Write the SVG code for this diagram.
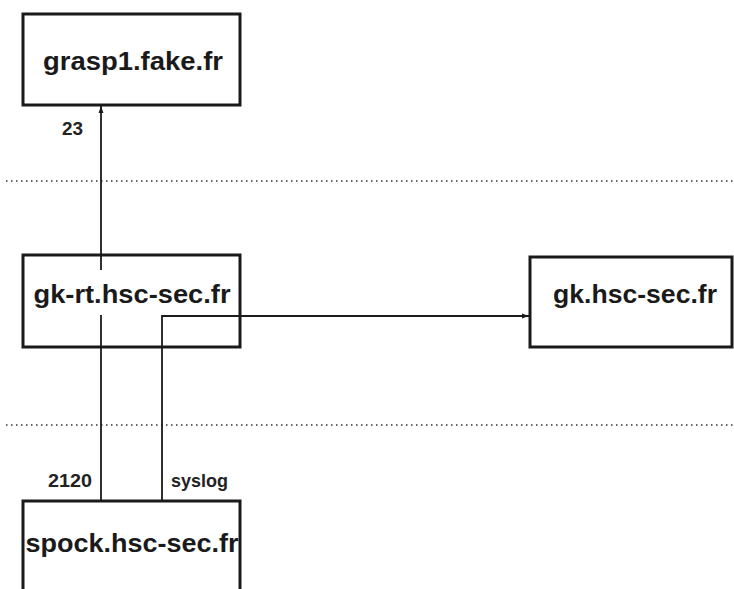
<svg xmlns="http://www.w3.org/2000/svg" width="734" height="589" viewBox="0 0 734 589">
<style>
.box{fill:#fff;stroke:#1a1a1a;stroke-width:3}
.name{font-family:"Liberation Sans",Arial,sans-serif;font-weight:bold;font-size:26px;fill:#1a1a1a;text-anchor:middle}
.lbl{font-family:"Liberation Sans",Arial,sans-serif;font-weight:bold;font-size:18px;fill:#222}
.wire{fill:none;stroke:#1a1a1a;stroke-width:1.8}
.sep{stroke:#333;stroke-width:1.6;stroke-dasharray:1.5 3.5}
</style>
<defs>
<marker id="ah" viewBox="0 0 10 10" refX="10" refY="5" markerWidth="9" markerHeight="7" orient="auto" markerUnits="userSpaceOnUse">
<path d="M0,1.5 L10,5 L0,8.5 Z" fill="#1a1a1a"/>
</marker>
</defs>
<rect width="734" height="589" fill="#fff"/>
<g id="separators">
<line class="sep" x1="6" y1="181" x2="734" y2="181"/>
<line class="sep" x1="6" y1="425" x2="734" y2="425"/>
</g>
<g id="grasp1">
<rect class="box" x="23" y="14" width="217" height="91"/>
<text class="name" x="133" y="70" textLength="180" lengthAdjust="spacingAndGlyphs">grasp1.fake.fr</text>
</g>
<g id="gk-rt">
<rect class="box" x="23" y="255" width="217" height="92"/>
<text class="name" x="132" y="303" textLength="197" lengthAdjust="spacingAndGlyphs">gk-rt.hsc-sec.fr</text>
</g>
<g id="gk">
<rect class="box" x="530" y="257" width="202" height="90"/>
<text class="name" x="635" y="303" textLength="164" lengthAdjust="spacingAndGlyphs">gk.hsc-sec.fr</text>
</g>
<g id="spock">
<rect class="box" x="23" y="501" width="217" height="100"/>
<text class="name" x="132" y="552" textLength="213" lengthAdjust="spacingAndGlyphs">spock.hsc-sec.fr</text>
</g>
<g id="connectors">
<line class="wire" x1="101" y1="270" x2="101" y2="106" marker-end="url(#ah)"/>
<line class="wire" x1="101" y1="315" x2="101" y2="501"/>
<polyline class="wire" points="162,501 162,316 529,316" marker-end="url(#ah)"/>
<text class="lbl" x="62" y="135" textLength="21" lengthAdjust="spacingAndGlyphs">23</text>
<text class="lbl" x="48" y="487" textLength="44" lengthAdjust="spacingAndGlyphs">2120</text>
<text class="lbl" x="171" y="487" textLength="57" lengthAdjust="spacingAndGlyphs">syslog</text>
</g>
</svg>
